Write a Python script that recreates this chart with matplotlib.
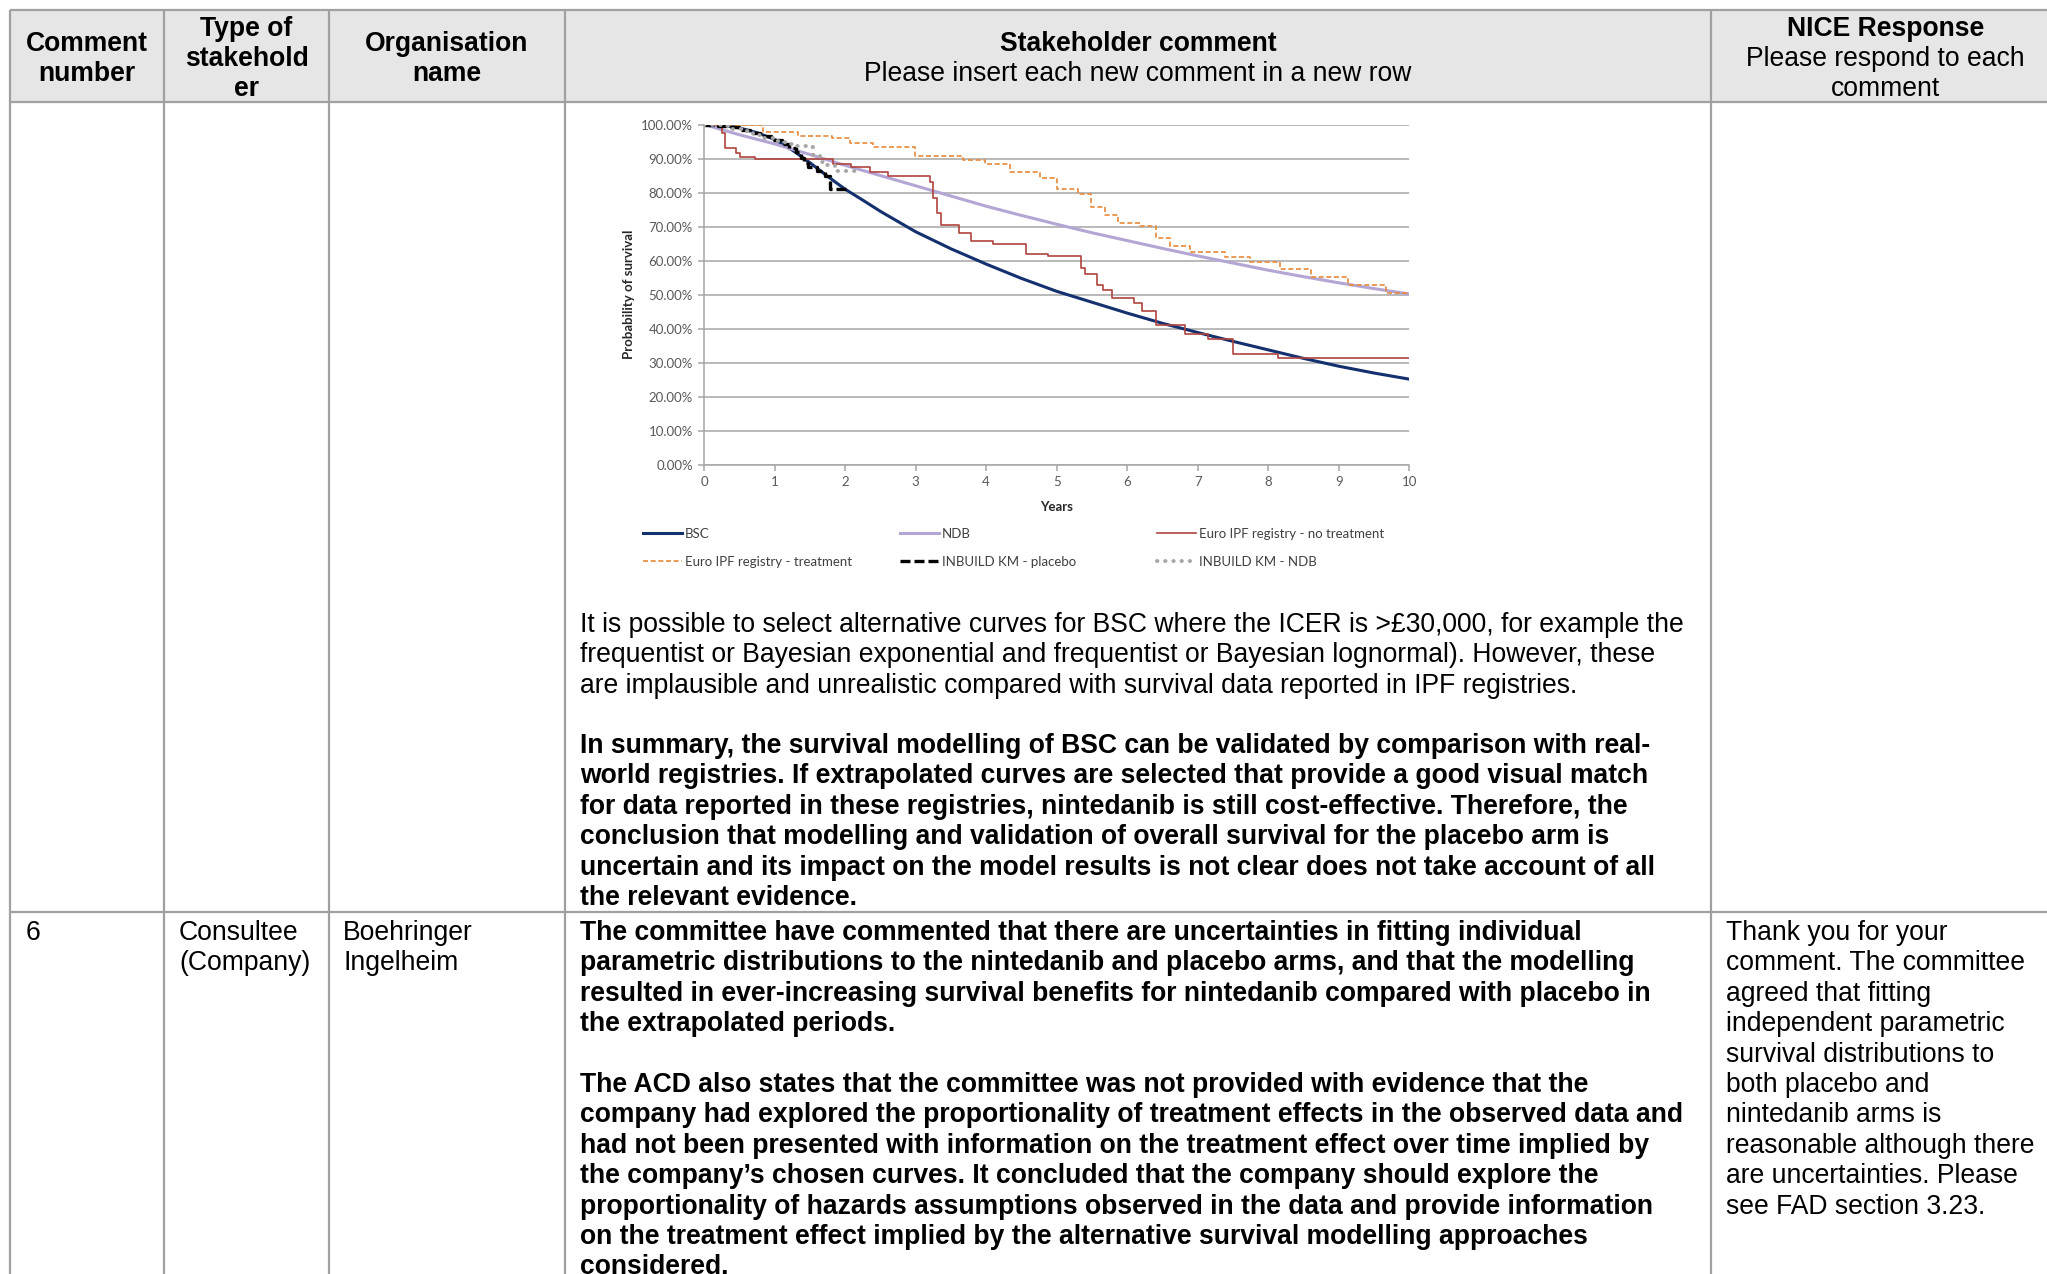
#!/usr/bin/env python3
# -*- coding: utf-8 -*-
"""
Consultation comments table with the BSC survival validation chart
"""

import matplotlib
matplotlib.use("Agg")
import matplotlib.pyplot as plt
from matplotlib.patches import Rectangle
from matplotlib.ticker import FuncFormatter
import numpy as np

W, H = 2047, 1274
DPI = 100

TABLE_FONT = "Liberation Sans"
CHART_FONT = "Lato"

# ---------------------------------------------------------------------------
# Survival data (years, probability of survival in %)
# ---------------------------------------------------------------------------
bsc_years = [0, 0.25, 0.5, 0.75, 1.0, 1.25, 1.5, 1.75, 2.0, 2.25, 2.5, 2.75, 3.0,
             3.5, 4.0, 4.5, 5.0, 5.5, 6.0, 6.5, 7.0, 7.5, 8.0, 8.5, 9.0, 9.5, 10.0]
bsc_surv = [100, 99.8, 99.0, 97.6, 95.6, 92.5, 88.8, 84.8, 81.0, 77.8, 74.5, 71.5, 68.5,
            63.5, 59.0, 54.8, 51.0, 47.8, 44.6, 41.6, 38.9, 36.3, 33.8, 31.3, 29.0, 27.0, 25.2]

ndb_years = [0, 0.5, 1.0, 1.5, 2.0, 2.5, 3.0, 3.5, 4.0, 4.5, 5.0,
             5.5, 6.0, 6.5, 7.0, 7.5, 8.0, 8.5, 9.0, 9.5, 10.0]
ndb_surv = [100, 97.0, 94.3, 91.2, 88.0, 85.0, 82.0, 79.0, 76.0, 73.3, 70.7,
            68.2, 65.9, 63.6, 61.4, 59.3, 57.2, 55.3, 53.5, 51.8, 50.2]

euro_no_tx_years = [0, 0.25, 0.30, 0.46, 0.51, 0.72, 1.83, 2.09, 2.35, 2.61, 3.20, 3.25,
                    3.30, 3.36, 3.62, 3.78, 4.09, 4.56, 4.88, 5.35, 5.40, 5.57, 5.66, 5.78,
                    6.09, 6.21, 6.41, 6.82, 7.15, 7.50, 8.14, 10.0]
euro_no_tx_surv = [100, 97.6, 93.1, 91.7, 90.6, 90.0, 88.4, 87.4, 86.1, 84.9, 83.2, 78.3,
                   74.1, 70.4, 68.0, 65.7, 65.0, 62.1, 61.3, 58.0, 56.0, 52.8, 51.5, 48.9,
                   47.6, 45.1, 41.0, 38.5, 36.9, 32.7, 31.3, 31.3]

euro_tx_years = [0, 0.84, 1.33, 1.81, 2.07, 2.40, 2.99, 3.67, 3.98, 4.34, 4.76, 5.00,
                 5.30, 5.49, 5.68, 5.87, 6.18, 6.41, 6.61, 6.89, 7.39, 7.74, 8.17, 8.61,
                 9.13, 9.66, 10.0]
euro_tx_surv = [100, 97.7, 96.7, 95.9, 94.5, 93.5, 90.8, 89.5, 88.3, 86.1, 84.4, 81.0,
                79.5, 75.8, 73.3, 71.2, 70.2, 66.6, 64.4, 62.7, 61.0, 59.7, 57.5, 55.1,
                52.9, 50.5, 50.5]

km_placebo_years = [0, 0.2, 0.35, 0.5, 0.65, 0.8, 0.95, 1.1, 1.2, 1.3, 1.38, 1.42,
                    1.48, 1.6, 1.72, 1.78, 2.07]
km_placebo_surv = [100, 99.7, 99.3, 98.5, 97.5, 96.5, 95.5, 94.2, 93.2, 92.0, 90.3, 88.6,
                   87.4, 86.3, 84.8, 81.0, 81.0]

km_ndb_years = [0, 0.25, 0.4, 0.55, 0.7, 0.85, 1.0, 1.15, 1.3, 1.45, 1.55, 1.65,
                1.75, 1.85, 2.15]
km_ndb_surv = [100, 99.5, 98.8, 98.0, 97.0, 96.0, 95.2, 94.4, 93.8, 93.3, 91.0, 89.0,
               88.0, 86.2, 86.2]

y_ticks = np.arange(0, 101, 10)
x_ticks = np.arange(0, 11, 1)

# ---------------------------------------------------------------------------
# Table text
# ---------------------------------------------------------------------------
header_cols = [
    ["Comment", "number"],
    ["Type of", "stakehold", "er"],
    ["Organisation", "name"],
    ["Stakeholder comment", "Please insert each new comment in a new row"],
    ["NICE Response", "Please respond to each", "comment"],
]
# how many leading lines of each header are bold
header_bold_lines = [2, 3, 2, 1, 1]

para_regular = [
    "It is possible to select alternative curves for BSC where the ICER is >£30,000, for example the",
    "frequentist or Bayesian exponential and frequentist or Bayesian lognormal). However, these",
    "are implausible and unrealistic compared with survival data reported in IPF registries.",
]
para_summary = [
    "In summary, the survival modelling of BSC can be validated by comparison with real-",
    "world registries. If extrapolated curves are selected that provide a good visual match",
    "for data reported in these registries, nintedanib is still cost-effective. Therefore, the",
    "conclusion that modelling and validation of overall survival for the placebo arm is",
    "uncertain and its impact on the model results is not clear does not take account of all",
    "the relevant evidence.",
]
row6_number = "6"
row6_type = ["Consultee", "(Company)"]
row6_org = ["Boehringer", "Ingelheim"]
row6_comment = [
    "The committee have commented that there are uncertainties in fitting individual",
    "parametric distributions to the nintedanib and placebo arms, and that the modelling",
    "resulted in ever-increasing survival benefits for nintedanib compared with placebo in",
    "the extrapolated periods.",
    "",
    "The ACD also states that the committee was not provided with evidence that the",
    "company had explored the proportionality of treatment effects in the observed data and",
    "had not been presented with information on the treatment effect over time implied by",
    "the company\u2019s chosen curves. It concluded that the company should explore the",
    "proportionality of hazards assumptions observed in the data and provide information",
    "on the treatment effect implied by the alternative survival modelling approaches",
    "considered.",
]
row6_response = [
    "Thank you for your",
    "comment. The committee",
    "agreed that fitting",
    "independent parametric",
    "survival distributions to",
    "both placebo and",
    "nintedanib arms is",
    "reasonable although there",
    "are uncertainties. Please",
    "see FAD section 3.23.",
]

# layout (pixels)
TABLE_LEFT, TABLE_TOP, TABLE_RIGHT = 10, 10, 2060
COL_LINES = [164, 329, 565, 1711]
HEADER_BOTTOM = 102
ROW_SPLIT = 912
LINE_STEP = 30.4
TEXT_SIZE = 19.1
CHART_TEXT = 9.5
GRID_GRAY = "#A0A0A0"


def draw_lines(ax, x, y0, lines, bold=False, ha="left"):
    for i, line in enumerate(lines):
        ax.text(x, y0 + i * LINE_STEP, line, fontsize=TEXT_SIZE, family=TABLE_FONT,
                fontweight="bold" if bold else "normal", ha=ha, va="center_baseline",
                color="black")


def draw_table(ax):
    ax.add_patch(Rectangle((TABLE_LEFT, TABLE_TOP), TABLE_RIGHT - TABLE_LEFT,
                           HEADER_BOTTOM - TABLE_TOP, facecolor="#E6E6E6", edgecolor="none"))
    kw = dict(color=GRID_GRAY, lw=1.6, solid_capstyle="butt")
    ax.plot([TABLE_LEFT, TABLE_RIGHT], [TABLE_TOP, TABLE_TOP], **kw)
    ax.plot([TABLE_LEFT, TABLE_RIGHT], [HEADER_BOTTOM, HEADER_BOTTOM], **kw)
    ax.plot([TABLE_LEFT, TABLE_RIGHT], [ROW_SPLIT, ROW_SPLIT], **kw)
    ax.plot([TABLE_LEFT, TABLE_LEFT], [TABLE_TOP, H + 5], **kw)
    for x in COL_LINES:
        ax.plot([x, x], [TABLE_TOP, H + 5], **kw)

    # header cells
    edges = [TABLE_LEFT] + COL_LINES + [TABLE_RIGHT]
    mid = (TABLE_TOP + HEADER_BOTTOM) / 2
    for i, lines in enumerate(header_cols):
        cx = (edges[i] + edges[i + 1]) / 2
        y0 = mid - (len(lines) - 1) * LINE_STEP / 2
        nb = header_bold_lines[i]
        draw_lines(ax, cx, y0, lines[:nb], bold=True, ha="center")
        draw_lines(ax, cx, y0 + nb * LINE_STEP, lines[nb:], bold=False, ha="center")

    # tail of the previous comment, under the chart
    draw_lines(ax, 580, 622, para_regular)
    draw_lines(ax, 580, 743, para_summary, bold=True)

    # comment 6
    y6 = 930
    draw_lines(ax, 26, y6, [row6_number])
    draw_lines(ax, 179, y6, row6_type)
    draw_lines(ax, 343, y6, row6_org)
    draw_lines(ax, 580, y6, row6_comment, bold=True)
    draw_lines(ax, 1726, y6, row6_response)


def draw_chart(fig):
    x0, y0, x1, y1 = 704, 124.5, 1409.5, 465
    ax = fig.add_axes([x0 / W, 1 - y1 / H, (x1 - x0) / W, (y1 - y0) / H])
    ax.set_facecolor("none")

    series = [
        (bsc_years, bsc_surv, "BSC", dict(color="#14306E", lw=2.2), False),
        (ndb_years, ndb_surv, "NDB", dict(color="#B4A6D4", lw=2.2), False),
        (euro_no_tx_years, euro_no_tx_surv, "Euro IPF registry - no treatment",
         dict(color="#B0443F", lw=1.2), True),
        (euro_tx_years, euro_tx_surv, "Euro IPF registry - treatment",
         dict(color="#E8883A", lw=1.2, ls=(0, (3, 1.6))), True),
        (km_placebo_years, km_placebo_surv, "INBUILD KM - placebo",
         dict(color="black", lw=2.4, ls=(0, (3, 1.2))), True),
        (km_ndb_years, km_ndb_surv, "INBUILD KM - NDB",
         dict(color="#A6A6A6", lw=2.8, ls=(0, (0.1, 2.0)), dash_capstyle="round"), True),
    ]
    for xs, ys, name, style, is_step in series:
        if is_step:
            ax.step(xs, ys, where="post", label=name, **style)
        else:
            ax.plot(xs, ys, label=name, **style)

    ax.set_xlim(0, 10)
    ax.set_ylim(0, 100)
    ax.set_xticks(x_ticks)
    ax.set_yticks(y_ticks)
    ax.yaxis.set_major_formatter(FuncFormatter(lambda v, _: f"{v:.2f}%"))
    ax.grid(axis="y", color="#A6A6A6", lw=1.1)
    ax.set_axisbelow(True)
    for side in ("top", "right"):
        ax.spines[side].set_visible(False)
    for side in ("left", "bottom"):
        ax.spines[side].set_color("#A6A6A6")
        ax.spines[side].set_linewidth(1.1)
    ax.tick_params(axis="both", length=4, width=1.1, color="#A6A6A6",
                   labelsize=CHART_TEXT, labelcolor="#595959", pad=4)
    for lab in ax.get_xticklabels() + ax.get_yticklabels():
        lab.set_family(CHART_FONT)

    ax.set_ylabel("Probability of survival", fontsize=CHART_TEXT, fontweight="bold",
                  family=CHART_FONT, color="#262626")
    ax.yaxis.set_label_coords(-0.098, 0.5)
    ax.set_xlabel("Years", fontsize=CHART_TEXT, fontweight="bold", family=CHART_FONT,
                  color="#262626")
    ax.xaxis.set_label_coords(0.5, -0.105)

    # legend, three columns laid out like the spreadsheet legend
    bg = fig.axes[0]
    legend_cols = [643, 900, 1157]
    legend_rows = [533, 561]
    for k, (_, _, name, style, _) in enumerate(series):
        lx = legend_cols[k % 3]
        ly = legend_rows[k // 3]
        bg.plot([lx, lx + 39], [ly, ly], **style)
        bg.text(lx + 42, ly, name, fontsize=CHART_TEXT, family=CHART_FONT, color="#404040",
                ha="left", va="center_baseline")
    return ax


def main():
    fig = plt.figure(figsize=(W / DPI, H / DPI), dpi=DPI)
    bg = fig.add_axes([0, 0, 1, 1])
    bg.set_xlim(0, W)
    bg.set_ylim(H, 0)
    bg.axis("off")

    draw_table(bg)
    draw_chart(fig)

    fig.savefig("out.png", dpi=DPI, facecolor="white")
    plt.close(fig)


if __name__ == "__main__":
    main()
